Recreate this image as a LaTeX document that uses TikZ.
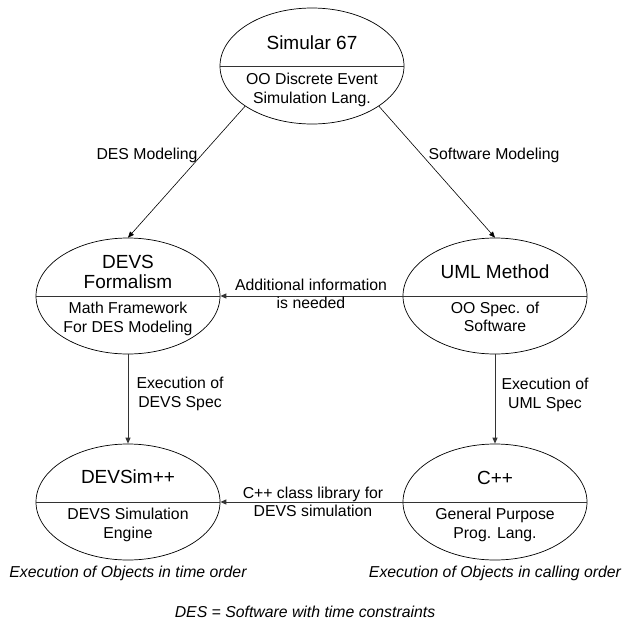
\documentclass[tikz,border=0pt]{standalone}
\usepackage{fontspec}
\setmainfont{Liberation Sans}
\usetikzlibrary{shapes.geometric,arrows.meta}
\begin{document}
\begin{tikzpicture}[x=1pt,y=-1pt,
  oval/.style={ellipse,draw,line width=0.7pt,minimum width=184pt,minimum height=116pt,inner sep=0pt},
  divider/.style={line width=1pt,black!80},
  title/.style={font=\fontsize{19}{20}\selectfont,align=center,inner sep=0pt},
  txt/.style={font=\fontsize{15.8}{18.5}\selectfont,align=center,inner sep=0pt},
  itx/.style={font=\fontsize{15.8}{18.5}\selectfont\itshape,inner sep=0pt},
  conn/.style={line width=0.6pt,-{Triangle[length=6pt,width=5pt]}},
  hconn/.style={line width=1pt,black!80,-{Triangle[length=6pt,width=5pt]}}]
\useasboundingbox (0,0) rectangle (627,622);
% ellipses
\node[oval] (sim) at (312,66) {};
\node[oval] (devs) at (128,296) {};
\node[oval] (uml) at (495,296) {};
\node[oval] (dsim) at (128,502) {};
\node[oval] (cpp) at (495,502) {};
\draw[divider] (sim.west) -- (sim.east);
\draw[divider] (devs.west) -- (devs.east);
\draw[divider] (uml.west) -- (uml.east);
\draw[divider] (dsim.west) -- (dsim.east);
\draw[divider] (cpp.west) -- (cpp.east);
% texts inside
\node[title] (simt) at (312,43) {Simular 67};
\node[txt] (sims) at (312,90) {OO Discrete Event\\Simulation Lang.};
\node[title] (devst) at (128,272) {DEVS\\Formalism};
\node[txt] (devss) at (128,319) {Math Framework\\For DES Modeling};
\node[title] (umlt) at (495,272) {UML Method};
\node[txt] (umls) at (495,317) {OO Spec. of\\Software};
\node[title] (dsimt) at (128,477) {DEVSim++};
\node[txt] (dsims) at (128,525) {DEVS Simulation\\Engine};
\node[title] (cppt) at (495,478) {C++};
\node[txt] (cpps) at (495,525) {General Purpose\\Prog. Lang.};
% connectors
\draw[conn] (sim.211) -- (devs.north);
\draw[conn] (sim.329) -- (uml.north);
\draw[hconn] (uml.west) -- (devs.east);
\draw[hconn] (devs.south) -- (dsim.north);
\draw[hconn] (uml.south) -- (cpp.north);
\draw[hconn] (cpp.west) -- (dsim.east);
% labels
\node[txt] (l1) at (147,155) {DES Modeling};
\node[txt] (l2) at (494,155) {Software Modeling};
\node[txt] (l3) at (311,294) {Additional information\\is needed};
\node[txt] (l4) at (180,394) {Execution of\\DEVS Spec};
\node[txt] (l5) at (545,395) {Execution of\\UML Spec};
\node[txt] (l6) at (313,502) {C++ class library for\\DEVS simulation};
\node[itx] (b1) at (128,573) {Execution of Objects in time order};
\node[itx] (b2) at (495,573) {Execution of Objects in calling order};
\node[itx] (b3) at (305,612) {DES = Software with time constraints};
\end{tikzpicture}
\end{document}
